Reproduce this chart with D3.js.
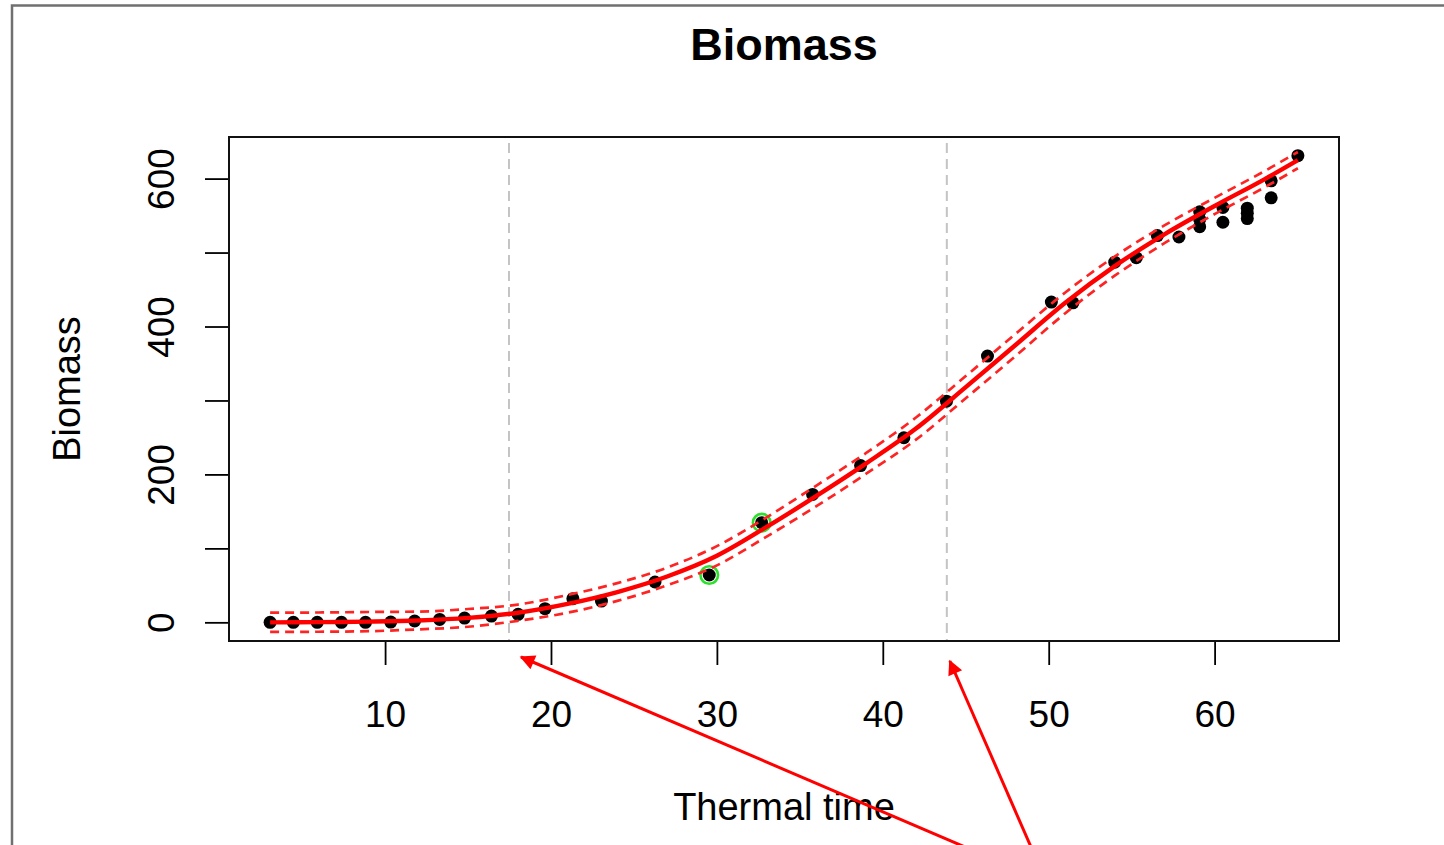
<!DOCTYPE html>
<html>
<head>
<meta charset="utf-8">
<script src="https://cdn.jsdelivr.net/npm/d3@7"></script>
<style>
    body { margin: 0; background: #fff; }
    svg { display: block; font-family: "Liberation Sans", Arial, sans-serif; }
</style>
</head>
<body>
<script>
// observed points
const thermalTime = [3.07, 4.47, 5.91, 7.37, 8.82, 10.34, 11.78, 13.29, 14.79, 16.41, 18.02, 19.64, 21.32, 23.04,
    26.27, 29.54, 32.70, 35.77, 38.66, 41.27, 43.84, 46.31, 50.16, 51.46, 53.98, 55.28, 56.55, 57.85,
    59.1, 59.1, 59.1, 60.5, 60.5, 61.97, 61.97, 61.97, 63.41, 63.41, 65.02];
const biomass = [0, 0, 0, 0, 0, 0.4, 1.8, 4, 5.8, 8.5, 10.8, 18.5, 32, 28.8,
    54.5, 64, 134.7, 173, 212, 249.6, 299, 360, 433, 432, 487, 493, 523, 521,
    555, 545, 535, 561, 541, 560, 553, 546, 597, 574, 631];
// points circled in green
const flagged = [15, 16];

// fitted curve and its band
const fitX = [3.07, 6, 9, 12, 15, 18, 21, 24, 27, 30, 33, 36, 39, 42, 45, 48, 51, 54, 57, 60, 63, 65.02];
const fitY = [0, 0.3, 1, 2.5, 6, 13, 25, 41, 62, 90, 129, 171, 215, 262, 318, 375, 432, 482, 525, 563, 599, 625];
const upperY = [13, 13.3, 14, 14.5, 18, 24, 37, 53, 74, 103, 142, 185, 229, 277, 333, 390, 446, 495, 537, 574, 610, 636];
const lowerY = [-13, -12.7, -12, -9.5, -6, 2, 13, 29, 50, 77, 116, 157, 201, 247, 303, 360, 418, 469, 513, 552, 588, 614];

// vertical markers
const markers = [17.47, 43.86];

const xTicks = [10, 20, 30, 40, 50, 60];
const yTicks = [0, 100, 200, 300, 400, 500, 600];
const yLabelled = [0, 200, 400, 600];

const width = 1444, height = 845;
const box = {left: 229, right: 1339, top: 137, bottom: 641};

function padded(values) {
    let lo = d3.min(values), hi = d3.max(values);
    let pad = (hi - lo) * 0.04;
    return [lo - pad, hi + pad];
}

const svg = d3.select("body").append("svg")
    .attr("width", width)
    .attr("height", height);

svg.append("rect").attr("width", width).attr("height", height).attr("fill", "#fff");

// window frame
svg.append("rect")
    .attr("x", 12).attr("y", 5.5)
    .attr("width", 1500).attr("height", 1000)
    .attr("fill", "none")
    .attr("stroke", "#707070")
    .attr("stroke-width", 2.5);

const x = d3.scaleLinear().domain(padded(thermalTime)).range([box.left, box.right]);
const y = d3.scaleLinear().domain(padded(biomass)).range([box.bottom, box.top]);

// axes
const xAxis = svg.append("g")
    .attr("transform", `translate(0,${box.bottom})`)
    .call(d3.axisBottom(x).tickValues(xTicks).tickSize(24).tickSizeOuter(0));
xAxis.select(".domain").remove();
xAxis.selectAll("line").attr("stroke", "#000").attr("stroke-width", 1.8);
xAxis.selectAll("text")
    .attr("y", 86).attr("dy", null)
    .attr("font-size", 37).attr("fill", "#000")
    .attr("font-family", "Liberation Sans, Arial, sans-serif");

const yAxis = svg.append("g")
    .attr("transform", `translate(${box.left},0)`)
    .call(d3.axisLeft(y).tickValues(yTicks).tickSize(24).tickSizeOuter(0)
        .tickFormat(d => yLabelled.includes(d) ? d : ""));
yAxis.select(".domain").remove();
yAxis.selectAll("line").attr("stroke", "#000").attr("stroke-width", 1.8);
yAxis.selectAll("text")
    .attr("x", 0).attr("y", 0).attr("dy", null)
    .attr("text-anchor", "middle")
    .attr("transform", "translate(-55,0) rotate(-90)")
    .attr("font-size", 37).attr("fill", "#000")
    .attr("font-family", "Liberation Sans, Arial, sans-serif");

// vertical dashed markers
svg.selectAll(".marker")
    .data(markers)
    .enter().append("line")
    .attr("class", "marker")
    .attr("x1", d => x(d)).attr("x2", d => x(d))
    .attr("y1", box.top + 6).attr("y2", box.bottom)
    .attr("stroke", "#c4c4c4")
    .attr("stroke-width", 2)
    .attr("stroke-dasharray", "10,6");

// points
const pts = thermalTime.map((t, i) => [t, biomass[i]]);
svg.selectAll(".pt")
    .data(pts)
    .enter().append("circle")
    .attr("class", "pt")
    .attr("cx", d => x(d[0]))
    .attr("cy", d => y(d[1]))
    .attr("r", 6.5)
    .attr("fill", "#000");

svg.selectAll(".flag")
    .data(flagged)
    .enter().append("circle")
    .attr("class", "flag")
    .attr("cx", i => x(thermalTime[i]))
    .attr("cy", i => y(biomass[i]))
    .attr("r", 8.8)
    .attr("fill", "none")
    .attr("stroke", "#2de02d")
    .attr("stroke-width", 2.6);

// fitted curve + band
const line = d3.line().x(d => x(d[0])).y(d => y(d[1])).curve(d3.curveMonotoneX);
const bands = [upperY, lowerY];
for (let b of bands) {
    svg.append("path")
        .attr("d", line(fitX.map((t, i) => [t, b[i]])))
        .attr("fill", "none")
        .attr("stroke", "#ff2424")
        .attr("stroke-width", 2.7)
        .attr("stroke-dasharray", "9,6");
}
svg.append("path")
    .attr("d", line(fitX.map((t, i) => [t, fitY[i]])))
    .attr("fill", "none")
    .attr("stroke", "#ff0000")
    .attr("stroke-width", 4.4);

// box
svg.append("rect")
    .attr("x", box.left).attr("y", box.top)
    .attr("width", box.right - box.left).attr("height", box.bottom - box.top)
    .attr("fill", "none")
    .attr("stroke", "#111")
    .attr("stroke-width", 2);

// titles
svg.append("text")
    .attr("x", (box.left + box.right) / 2).attr("y", 60)
    .attr("text-anchor", "middle")
    .attr("font-size", 45).attr("font-weight", "bold")
    .text("Biomass");

svg.append("text")
    .attr("x", (box.left + box.right) / 2).attr("y", 820)
    .attr("text-anchor", "middle")
    .attr("font-size", 38)
    .text("Thermal time");

svg.append("text")
    .attr("transform", `translate(80,${(box.top + box.bottom) / 2}) rotate(-90)`)
    .attr("text-anchor", "middle")
    .attr("font-size", 38)
    .text("Biomass");

// red annotation arrows pointing at the markers
svg.append("defs").append("marker")
    .attr("id", "head")
    .attr("viewBox", "0 0 10 10")
    .attr("refX", 9).attr("refY", 5)
    .attr("markerWidth", 6.5).attr("markerHeight", 5)
    .attr("markerUnits", "strokeWidth")
    .attr("orient", "auto")
    .append("path")
    .attr("d", "M0,0 L10,5 L0,10 Z")
    .attr("fill", "#ff0000");

const arrows = [
    {tip: [x(markers[0]) + 12, box.bottom + 16], tail: [965, height + 2]},
    {tip: [x(markers[1]) + 3, box.bottom + 20], tail: [1031, height + 2]}
];
svg.selectAll(".arrow")
    .data(arrows)
    .enter().append("line")
    .attr("class", "arrow")
    .attr("x1", d => d.tail[0]).attr("y1", d => d.tail[1])
    .attr("x2", d => d.tip[0]).attr("y2", d => d.tip[1])
    .attr("stroke", "#ff0000")
    .attr("stroke-width", 3)
    .attr("marker-end", "url(#head)");
</script>
</body>
</html>
